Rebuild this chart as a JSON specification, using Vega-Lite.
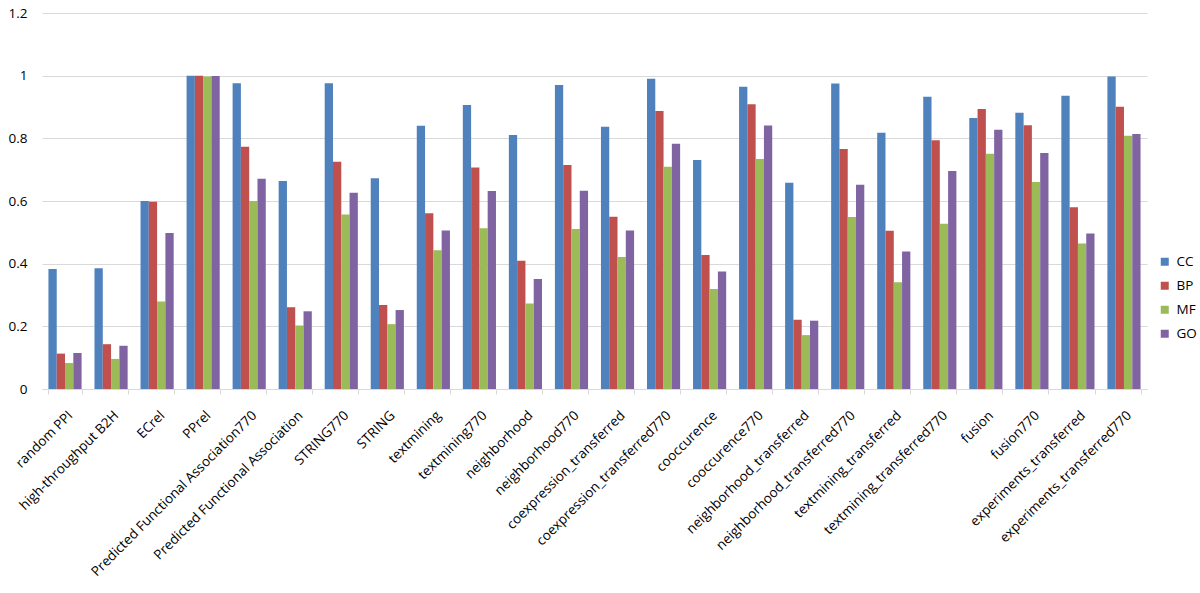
{
  "$schema": "https://vega.github.io/schema/vega-lite/v6.json",
  "width": 1105,
  "height": 376,
  "autosize": {"type": "none"},
  "padding": {"left": 42, "top": 13, "right": 53, "bottom": 204},
  "background": "white",
  "config": {"view": {"stroke": null}, "font": "Open Sans"},
  "data": {"values": [
    {"cat": "random PPI", "CC": 0.383, "BP": 0.113, "MF": 0.083, "GO": 0.115},
    {"cat": "high-throughput B2H", "CC": 0.385, "BP": 0.143, "MF": 0.096, "GO": 0.138},
    {"cat": "ECrel", "CC": 0.600, "BP": 0.598, "MF": 0.279, "GO": 0.498},
    {"cat": "PPrel", "CC": 1.000, "BP": 1.000, "MF": 0.997, "GO": 0.999},
    {"cat": "Predicted Functional Association770", "CC": 0.976, "BP": 0.773, "MF": 0.600, "GO": 0.671},
    {"cat": "Predicted Functional Association", "CC": 0.664, "BP": 0.261, "MF": 0.203, "GO": 0.248},
    {"cat": "STRING770", "CC": 0.976, "BP": 0.725, "MF": 0.557, "GO": 0.626},
    {"cat": "STRING", "CC": 0.673, "BP": 0.268, "MF": 0.207, "GO": 0.252},
    {"cat": "textmining", "CC": 0.840, "BP": 0.561, "MF": 0.443, "GO": 0.506},
    {"cat": "textmining770", "CC": 0.906, "BP": 0.707, "MF": 0.513, "GO": 0.632},
    {"cat": "neighborhood", "CC": 0.811, "BP": 0.409, "MF": 0.273, "GO": 0.351},
    {"cat": "neighborhood770", "CC": 0.970, "BP": 0.715, "MF": 0.511, "GO": 0.633},
    {"cat": "coexpression_transferred", "CC": 0.837, "BP": 0.550, "MF": 0.421, "GO": 0.506},
    {"cat": "coexpression_transferred770", "CC": 0.990, "BP": 0.887, "MF": 0.709, "GO": 0.783},
    {"cat": "cooccurence", "CC": 0.731, "BP": 0.428, "MF": 0.319, "GO": 0.375},
    {"cat": "cooccurence770", "CC": 0.965, "BP": 0.909, "MF": 0.734, "GO": 0.841},
    {"cat": "neighborhood_transferred", "CC": 0.658, "BP": 0.221, "MF": 0.172, "GO": 0.218},
    {"cat": "neighborhood_transferred770", "CC": 0.975, "BP": 0.766, "MF": 0.549, "GO": 0.652},
    {"cat": "textmining_transferred", "CC": 0.818, "BP": 0.505, "MF": 0.341, "GO": 0.439},
    {"cat": "textmining_transferred770", "CC": 0.933, "BP": 0.794, "MF": 0.527, "GO": 0.696},
    {"cat": "fusion", "CC": 0.865, "BP": 0.894, "MF": 0.751, "GO": 0.827},
    {"cat": "fusion770", "CC": 0.882, "BP": 0.842, "MF": 0.661, "GO": 0.753},
    {"cat": "experiments_transferred", "CC": 0.936, "BP": 0.580, "MF": 0.464, "GO": 0.496},
    {"cat": "experiments_transferred770", "CC": 0.997, "BP": 0.901, "MF": 0.808, "GO": 0.814}
  ]},
  "transform": [{"fold": ["CC", "BP", "MF", "GO"], "as": ["series", "value"]}],
  "mark": {"type": "bar"},
  "encoding": {
    "x": {
      "field": "cat", "type": "nominal", "sort": null, "title": null,
      "scale": {"paddingInner": 0.28, "paddingOuter": 0.14},
      "axis": {
        "labelAngle": -45, "labelFontSize": 13.5, "labelColor": "#000000",
        "labelPadding": 14, "tickBand": "extent", "tickSize": 5,
        "tickColor": "#D9D9D9", "domainColor": "#D9D9D9", "labelLimit": 400
      }
    },
    "xOffset": {"field": "series", "type": "nominal", "sort": ["CC", "BP", "MF", "GO"], "scale": {"paddingInner": 0, "paddingOuter": 0}},
    "y": {
      "field": "value", "type": "quantitative", "title": null,
      "scale": {"domain": [0, 1.2]},
      "axis": {
        "values": [0, 0.2, 0.4, 0.6, 0.8, 1, 1.2], "format": "~g",
        "domain": false, "ticks": false, "labelPadding": 15,
        "labelFontSize": 13.5, "labelColor": "#000000",
        "gridColor": "#D9D9D9", "gridWidth": 1
      }
    },
    "color": {
      "field": "series", "type": "nominal",
      "sort": ["CC", "BP", "MF", "GO"],
      "scale": {"domain": ["CC", "BP", "MF", "GO"], "range": ["#4F81BD", "#C0504D", "#9BBB59", "#8064A2"]},
      "legend": {
        "title": null, "orient": "none", "legendX": 1116, "legendY": 242,
        "symbolType": "square", "symbolSize": 64, "symbolStrokeWidth": 0,
        "labelFontSize": 13.5, "labelColor": "#000000", "rowPadding": 9, "labelOffset": 5
      }
    }
  }
}
